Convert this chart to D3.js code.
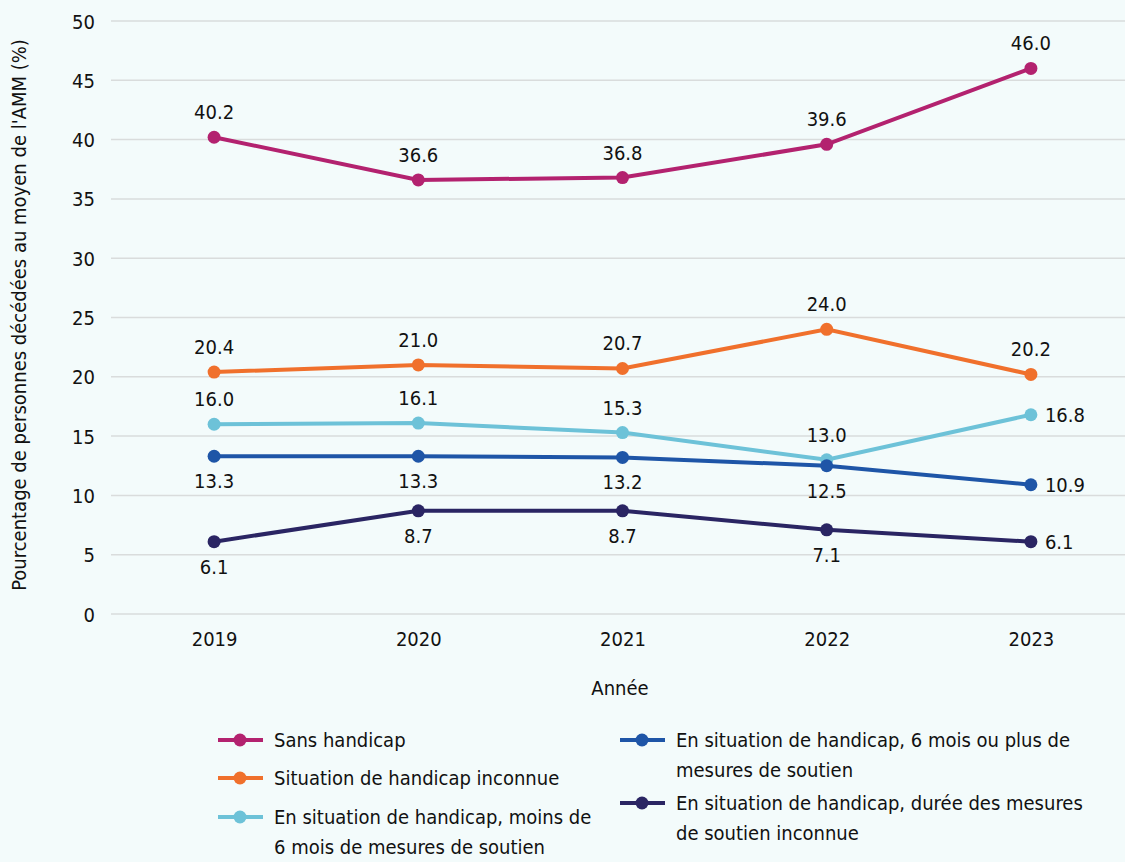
<!DOCTYPE html>
<html lang="fr">
<head>
<meta charset="utf-8">
<title>Personnes décédées au moyen de l'AMM</title>
<script src="https://cdn.jsdelivr.net/npm/d3@7"></script>
<style>
  body { margin: 0; background: #f3fbfb; }
  svg { display: block; }
  text { font-family: "Liberation Sans Narrow", "DejaVu Sans Condensed", "Roboto", sans-serif; fill: #111; }
</style>
</head>
<body>
<svg id="chart" width="1125" height="862"></svg>
<script>
// data
var years = ['2019', '2020', '2021', '2022', '2023'];
var seriesNames = [
  'Sans handicap',
  'Situation de handicap inconnue',
  'En situation de handicap, moins de 6 mois de mesures de soutien',
  'En situation de handicap, 6 mois ou plus de mesures de soutien',
  'En situation de handicap, durée des mesures de soutien inconnue'
];
var sansHandicap = [40.2, 36.6, 36.8, 39.6, 46.0];
var handicapInconnu = [20.4, 21.0, 20.7, 24.0, 20.2];
var moins6mois = [16.0, 16.1, 15.3, 13.0, 16.8];
var plus6mois = [13.3, 13.3, 13.2, 12.5, 10.9];
var dureeInconnue = [6.1, 8.7, 8.7, 7.1, 6.1];
var yTicks = [0, 5, 10, 15, 20, 25, 30, 35, 40, 45, 50];

var colors = ['#b3226f', '#f0702c', '#6dc2d8', '#1e55a7', '#2a2563'];
// where each value label goes (a = above, b = below, r = right)
var labelPos = [
  ['a', 'a', 'a', 'a', 'a'],
  ['a', 'a', 'a', 'a', 'a'],
  ['a', 'a', 'a', 'a', 'r'],
  ['b', 'b', 'b', 'b', 'r'],
  ['b', 'b', 'b', 'b', 'r']
];

var allSeries = [sansHandicap, handicapInconnu, moins6mois, plus6mois, dureeInconnue];

var svg = d3.select('#chart');
var mLeft = 111, mRight = 1125, mTop = 21, mBottom = 614;
var fs = '20px';

var x = d3.scalePoint().domain(years).range([112, 1133]).padding(0.5);
var y = d3.scaleLinear().domain([0, 50]).range([mBottom, mTop]);

// grid
svg.append('g').selectAll('line').data(yTicks).enter().append('line')
  .attr('x1', mLeft).attr('x2', mRight)
  .attr('y1', function(d) { return y(d); }).attr('y2', function(d) { return y(d); })
  .attr('stroke', '#d9dcdc').attr('stroke-width', 1.5);

// axes
var yAxis = svg.append('g').attr('transform', 'translate(' + (mLeft - 16) + ',0)')
  .call(d3.axisLeft(y).tickValues(yTicks).tickSize(0).tickPadding(0));
yAxis.select('.domain').remove();
yAxis.selectAll('text').style('font-size', fs).attr('dy', '0.35em');

var xAxis = svg.append('g').attr('transform', 'translate(0,' + mBottom + ')')
  .call(d3.axisBottom(x).tickSize(0).tickPadding(18));
xAxis.select('.domain').remove();
xAxis.selectAll('text').style('font-size', fs);

svg.append('text').attr('x', 620).attr('y', 695).attr('text-anchor', 'middle')
  .style('font-size', fs).text('Année');
svg.append('text').attr('transform', 'translate(26,315) rotate(-90)')
  .attr('text-anchor', 'middle').style('font-size', fs)
  .text('Pourcentage de personnes décédées au moyen de l\'AMM (%)');

// lines
var line = d3.line().x(function(d, i) { return x(years[i]); }).y(function(d) { return y(d); });

allSeries.forEach(function(vals, s) {
  var g = svg.append('g');
  g.append('path').datum(vals).attr('d', line)
    .attr('fill', 'none').attr('stroke', colors[s]).attr('stroke-width', 4);
  g.selectAll('circle').data(vals).enter().append('circle')
    .attr('cx', function(d, i) { return x(years[i]); })
    .attr('cy', function(d) { return y(d); })
    .attr('r', 6.5).attr('fill', colors[s]);
  g.selectAll('text').data(vals).enter().append('text')
    .attr('x', function(d, i) { return labelPos[s][i] == 'r' ? x(years[i]) + 14 : x(years[i]); })
    .attr('y', function(d, i) {
      var p = labelPos[s][i];
      if (p == 'a') return y(d) - 25;
      if (p == 'b') return y(d) + 25;
      return y(d);
    })
    .attr('dy', '0.35em')
    .attr('text-anchor', function(d, i) { return labelPos[s][i] == 'r' ? 'start' : 'middle'; })
    .style('font-size', fs)
    .text(function(d) { return d.toFixed(1); });
});

// legend
var legendItems = [
  { s: 0, x: 218, y: 740, lines: ['Sans handicap'] },
  { s: 1, x: 218, y: 778, lines: ['Situation de handicap inconnue'] },
  { s: 2, x: 218, y: 817, lines: ['En situation de handicap, moins de', '6 mois de mesures de soutien'] },
  { s: 3, x: 620, y: 740, lines: ['En situation de handicap, 6 mois ou plus de', 'mesures de soutien'] },
  { s: 4, x: 620, y: 803, lines: ['En situation de handicap, durée des mesures', 'de soutien inconnue'] }
];
var leg = svg.append('g').selectAll('g').data(legendItems).enter().append('g')
  .attr('transform', function(d) { return 'translate(' + d.x + ',' + d.y + ')'; });
leg.append('line').attr('x1', 0).attr('x2', 45).attr('y1', 0).attr('y2', 0)
  .attr('stroke', function(d) { return colors[d.s]; }).attr('stroke-width', 4);
leg.append('circle').attr('cx', 22).attr('cy', 0).attr('r', 6.5)
  .attr('fill', function(d) { return colors[d.s]; });
leg.each(function(d) {
  var t = d3.select(this).append('text').attr('x', 56).attr('y', 0)
    .style('font-size', fs);
  d.lines.forEach(function(l, i) {
    t.append('tspan').attr('x', 56).attr('dy', i == 0 ? '0.35em' : '30px').text(l);
  });
});
</script>
</body>
</html>
